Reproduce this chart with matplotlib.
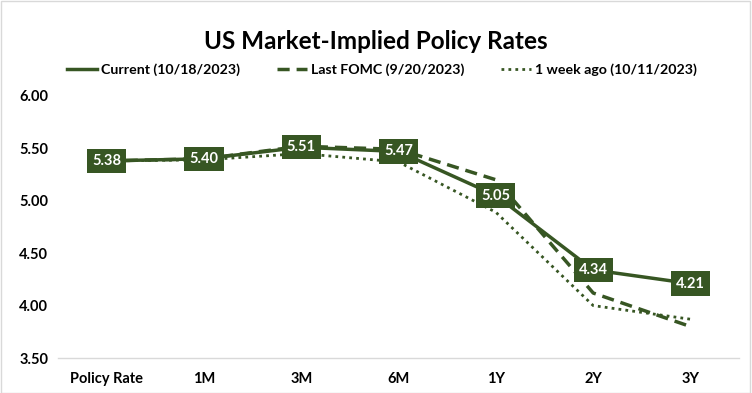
import matplotlib
matplotlib.use("Agg")
import matplotlib.pyplot as plt
import matplotlib.patches as patches

plt.rcParams["font.family"] = ["Lato", "DejaVu Sans"]

# Chart data
tenors = ["Policy Rate", "1M", "3M", "6M", "1Y", "2Y", "3Y"]
current = [5.38, 5.40, 5.51, 5.47, 5.05, 4.34, 4.21]
last_fomc = [5.38, 5.40, 5.52, 5.49, 5.20, 4.12, 3.80]
week_ago = [5.38, 5.39, 5.45, 5.37, 4.89, 4.00, 3.87]
y_ticks = [3.50, 4.00, 4.50, 5.00, 5.50, 6.00]

green = "#375623"

fig = plt.figure(figsize=(7.52, 3.93), dpi=100)
ax = fig.add_axes([0.077, 0.089, 0.906, 0.667])

x = list(range(len(tenors)))
ax.plot(x, week_ago, color=green, lw=2.0, linestyle=(0, (1, 1.5)),
        label="1 week ago (10/11/2023)", zorder=2)
ax.plot(x, last_fomc, color=green, lw=2.5, linestyle=(0, (3.5, 2)),
        label="Last FOMC (9/20/2023)", zorder=3)
ax.plot(x, current, color=green, lw=2.5, label="Current (10/18/2023)", zorder=4)

# Data labels on the current curve
for xi, v in zip(x, current):
    ax.text(xi, v, f"{v:.2f}", ha="center", va="center", color="white",
            fontsize=10.5, fontweight="bold", zorder=5,
            bbox=dict(boxstyle="square,pad=0.35", fc=green, ec="none"))

ax.set_xlim(-0.5, len(tenors) - 0.5)
ax.set_ylim(3.5, 6.0)
ax.set_yticks(y_ticks)
ax.set_yticklabels([f"{t:.2f}" for t in y_ticks], fontsize=10.5, fontweight="bold")
ax.set_xticks(x)
ax.set_xticklabels(tenors, fontsize=10.5, fontweight="bold")
ax.tick_params(axis="x", length=0, pad=10)
ax.tick_params(axis="y", length=0, pad=7)

for side in ["top", "right", "left"]:
    ax.spines[side].set_visible(False)
ax.spines["bottom"].set_color("#d9d9d9")
ax.spines["bottom"].set_linewidth(1)

fig.text(0.5, 0.895, "US Market-Implied Policy Rates", ha="center", va="center",
         fontsize=17.5, fontweight="bold")

handles, labels = ax.get_legend_handles_labels()
order = [2, 1, 0]
fig.legend([handles[i] for i in order], [labels[i] for i in order],
           loc="center", bbox_to_anchor=(0.508, 0.823), ncol=3, frameon=False,
           prop={"weight": "bold", "size": 10.2}, handlelength=2.1,
           handletextpad=0.3, columnspacing=2.6)

# light border around the whole chart
fig.patches.append(patches.Rectangle((0.001, 0.001), 0.997, 0.996,
                                     transform=fig.transFigure, fill=False,
                                     ec="#d9d9d9", lw=1))

fig.savefig("out.png", dpi=100)
